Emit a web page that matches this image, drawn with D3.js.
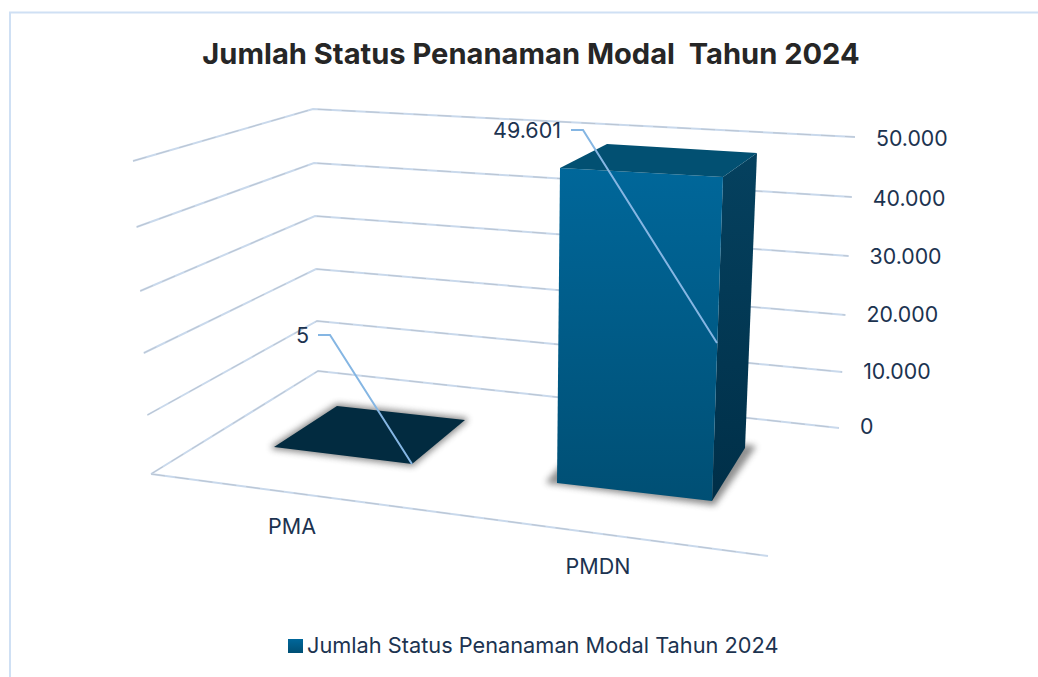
<!DOCTYPE html>
<html><head><meta charset="utf-8">
<script src="https://cdn.jsdelivr.net/npm/d3@7/dist/d3.min.js"></script>
<style>html,body{margin:0;padding:0;background:#fff}svg{display:block}</style>
</head><body><svg id="c" width="1038" height="677"></svg>
<script>
const categories = ["PMA", "PMDN"];
const values = [5, 49601];
const valueLabels = ["5", "49.601"];
const tickValues = [0, 10000, 20000, 30000, 40000, 50000];
const tickLabels = ["0", "10.000", "20.000", "30.000", "40.000", "50.000"];
const seriesName = "Jumlah Status Penanaman Modal Tahun 2024";
const titleText = "Jumlah Status Penanaman Modal  Tahun 2024";

const svg = d3.select("#c");
const FONT = "Inter, 'Noto Sans', sans-serif";
const defs = svg.append("defs");
function grad(id, a, b){
  const g = defs.append("linearGradient").attr("id", id).attr("x1",0).attr("y1",0).attr("x2",0).attr("y2",1);
  g.append("stop").attr("offset",0).attr("stop-color",a);
  g.append("stop").attr("offset",1).attr("stop-color",b);
}
grad("front","#00679a","#004f74");
grad("side","#05415f","#002f48");
grad("leg","#00679b","#004f74");
defs.append("filter").attr("id","blur").attr("x","-20%").attr("y","-20%").attr("width","140%").attr("height","140%")
  .append("feGaussianBlur").attr("stdDeviation",3);

// frame
svg.append("path").attr("d","M10 677V12.5H1038").attr("fill","none").attr("stroke","#cfe0f4").attr("stroke-width",2);

// wall scales: the three vertical edges of the 3D box
const yFront = d3.scaleLinear().domain(tickValues).range([474,415,353,291,227,161]);
const xFront = d3.scaleLinear().domain([0,50000]).range([151,133]);
const yBack  = d3.scaleLinear().domain(tickValues).range([371,321,269,216,163,109]);
const xBack  = d3.scaleLinear().domain([0,50000]).range([318,313]);
const yRight = d3.scaleLinear().domain(tickValues).range([428,372,315,256,197,137]);
const xRight = d3.scaleLinear().domain([0,50000]).range([839,855]);

const line = d3.line();
const gridG = svg.append("g").attr("fill","none");
function gridLine(pts){
  gridG.append("path").attr("d",line(pts)).attr("stroke","#c9d9ec").attr("stroke-width",2);
  gridG.append("path").attr("d",line(pts)).attr("stroke","#b4bbc6").attr("stroke-width",.7).attr("stroke-dasharray","14 10");
}
tickValues.forEach(v=>{
  gridLine([[xFront(v),yFront(v)],[xBack(v),yBack(v)],[xRight(v),yRight(v)]]);
});
// floor front edge
const floorFront = d3.scaleLinear().domain([0,1]).range([151,768]);
const floorFrontY = d3.scaleLinear().domain([0,1]).range([474,556]);
gridLine([[floorFront(0),floorFrontY(0)],[floorFront(1),floorFrontY(1)]]);

// axis labels via scale on a label edge
const tickX = d3.scaleLinear().domain([0,50000]).range([860,876]);
const tickY = d3.scaleLinear().domain(tickValues).range([426,371,314,256,198,138]);
svg.append("g").selectAll("text").data(tickValues).join("text")
  .attr("x",d=>tickX(d)).attr("y",d=>tickY(d)).attr("dy","0.36em")
  .attr("font-family",FONT).attr("font-size",21.3).attr("fill","#1c3350")
  .text((d,i)=>tickLabels[i]);

// bars: footprint on the floor per category; rise = how far each corner climbs per value
const footprint = {
  PMA:  {fl:[274,447], fr:[412,464], br:[465,420], bl:[337,406]},
  PMDN: {fl:[557,483], fr:[712,501], br:[745,448], bl:[591,432]}
};
const riseY = {fl:d3.scaleLinear().domain([0,49601]).range([0,-315]),
               fr:d3.scaleLinear().domain([0,49601]).range([0,-324]),
               br:d3.scaleLinear().domain([0,49601]).range([0,-295]),
               bl:d3.scaleLinear().domain([0,49601]).range([0,-288])};
const riseX = {fl:d3.scaleLinear().domain([0,49601]).range([0,3]),
               fr:d3.scaleLinear().domain([0,49601]).range([0,11]),
               br:d3.scaleLinear().domain([0,49601]).range([0,12]),
               bl:d3.scaleLinear().domain([0,49601]).range([0,16])};
const barG = svg.append("g");
categories.forEach((c,i)=>{
  const v = values[i], f = footprint[c];
  const top = k => [f[k][0]+riseX[k](v), f[k][1]+riseY[k](v)];
  const poly = a => line(a)+"Z";
  const isFlat = v < 1000;
  // shadow
  const sh = isFlat ? [f.bl,f.br,f.fr,f.fl] : [[f.fl[0]-9,f.fl[1]-1],[f.fr[0]+2,f.fr[1]+3],[f.br[0]+9,f.br[1]-1],f.bl];
  barG.append("path").attr("d",poly(sh)).attr("fill","#555").attr("stroke","#555").attr("stroke-width",isFlat?5:3)
    .attr("stroke-linejoin","round").attr("opacity",.65).attr("filter","url(#blur)");
  if(isFlat){
    barG.append("path").attr("d",poly([top("bl"),top("br"),top("fr"),top("fl")])).attr("fill","#022b40");
  } else {
    barG.append("path").attr("d",poly([f.fr,f.br,top("br"),top("fr")])).attr("fill","url(#side)");
    barG.append("path").attr("d",poly([f.fl,f.fr,top("fr"),top("fl")])).attr("fill","url(#front)");
    barG.append("path").attr("d",poly([top("fl"),top("fr"),top("br"),top("bl")])).attr("fill","#025072");
  }
});

// data labels and leader lines
const labelLayout = {
  PMA:  {x:309, y:335, leader:[[318,335],[330,335],[412,464]]},
  PMDN: {x:561, y:130, leader:[[571,130],[583,130],[717,343]]}
};
categories.forEach((c,i)=>{
  const l = labelLayout[c];
  svg.append("path").attr("d",line(l.leader)).attr("fill","none").attr("stroke","#85b6e3").attr("stroke-width",2);
  svg.append("text").attr("x",l.x).attr("y",l.y).attr("dy","0.36em").attr("text-anchor","end")
    .attr("font-family",FONT).attr("font-size",21.5).attr("fill","#1c3350").text(valueLabels[i]);
});
// category labels
const catPos = d3.scalePoint().domain(categories).range([292,598]);
const catY = d3.scalePoint().domain(categories).range([526,566]);
svg.append("g").selectAll("text").data(categories).join("text")
  .attr("x",d=>catPos(d)).attr("y",d=>catY(d)).attr("dy","0.36em").attr("text-anchor","middle")
  .attr("font-family",FONT).attr("font-size",21.5).attr("fill","#1c3350").text(d=>d);

// title
svg.append("text").attr("x",531).attr("y",54).attr("dy","0.36em").attr("text-anchor","middle")
  .attr("font-family",FONT).attr("font-size",29.1).attr("font-weight",700).attr("fill","#262626")
  .style("white-space","pre").text(titleText);

// legend
svg.append("rect").attr("x",288).attr("y",639).attr("width",15).attr("height",14).attr("fill","url(#leg)");
svg.append("text").attr("x",307).attr("y",645).attr("dy","0.36em")
  .attr("font-family",FONT).attr("font-size",21.75).attr("fill","#1c3350").text(seriesName);
</script></body></html>
